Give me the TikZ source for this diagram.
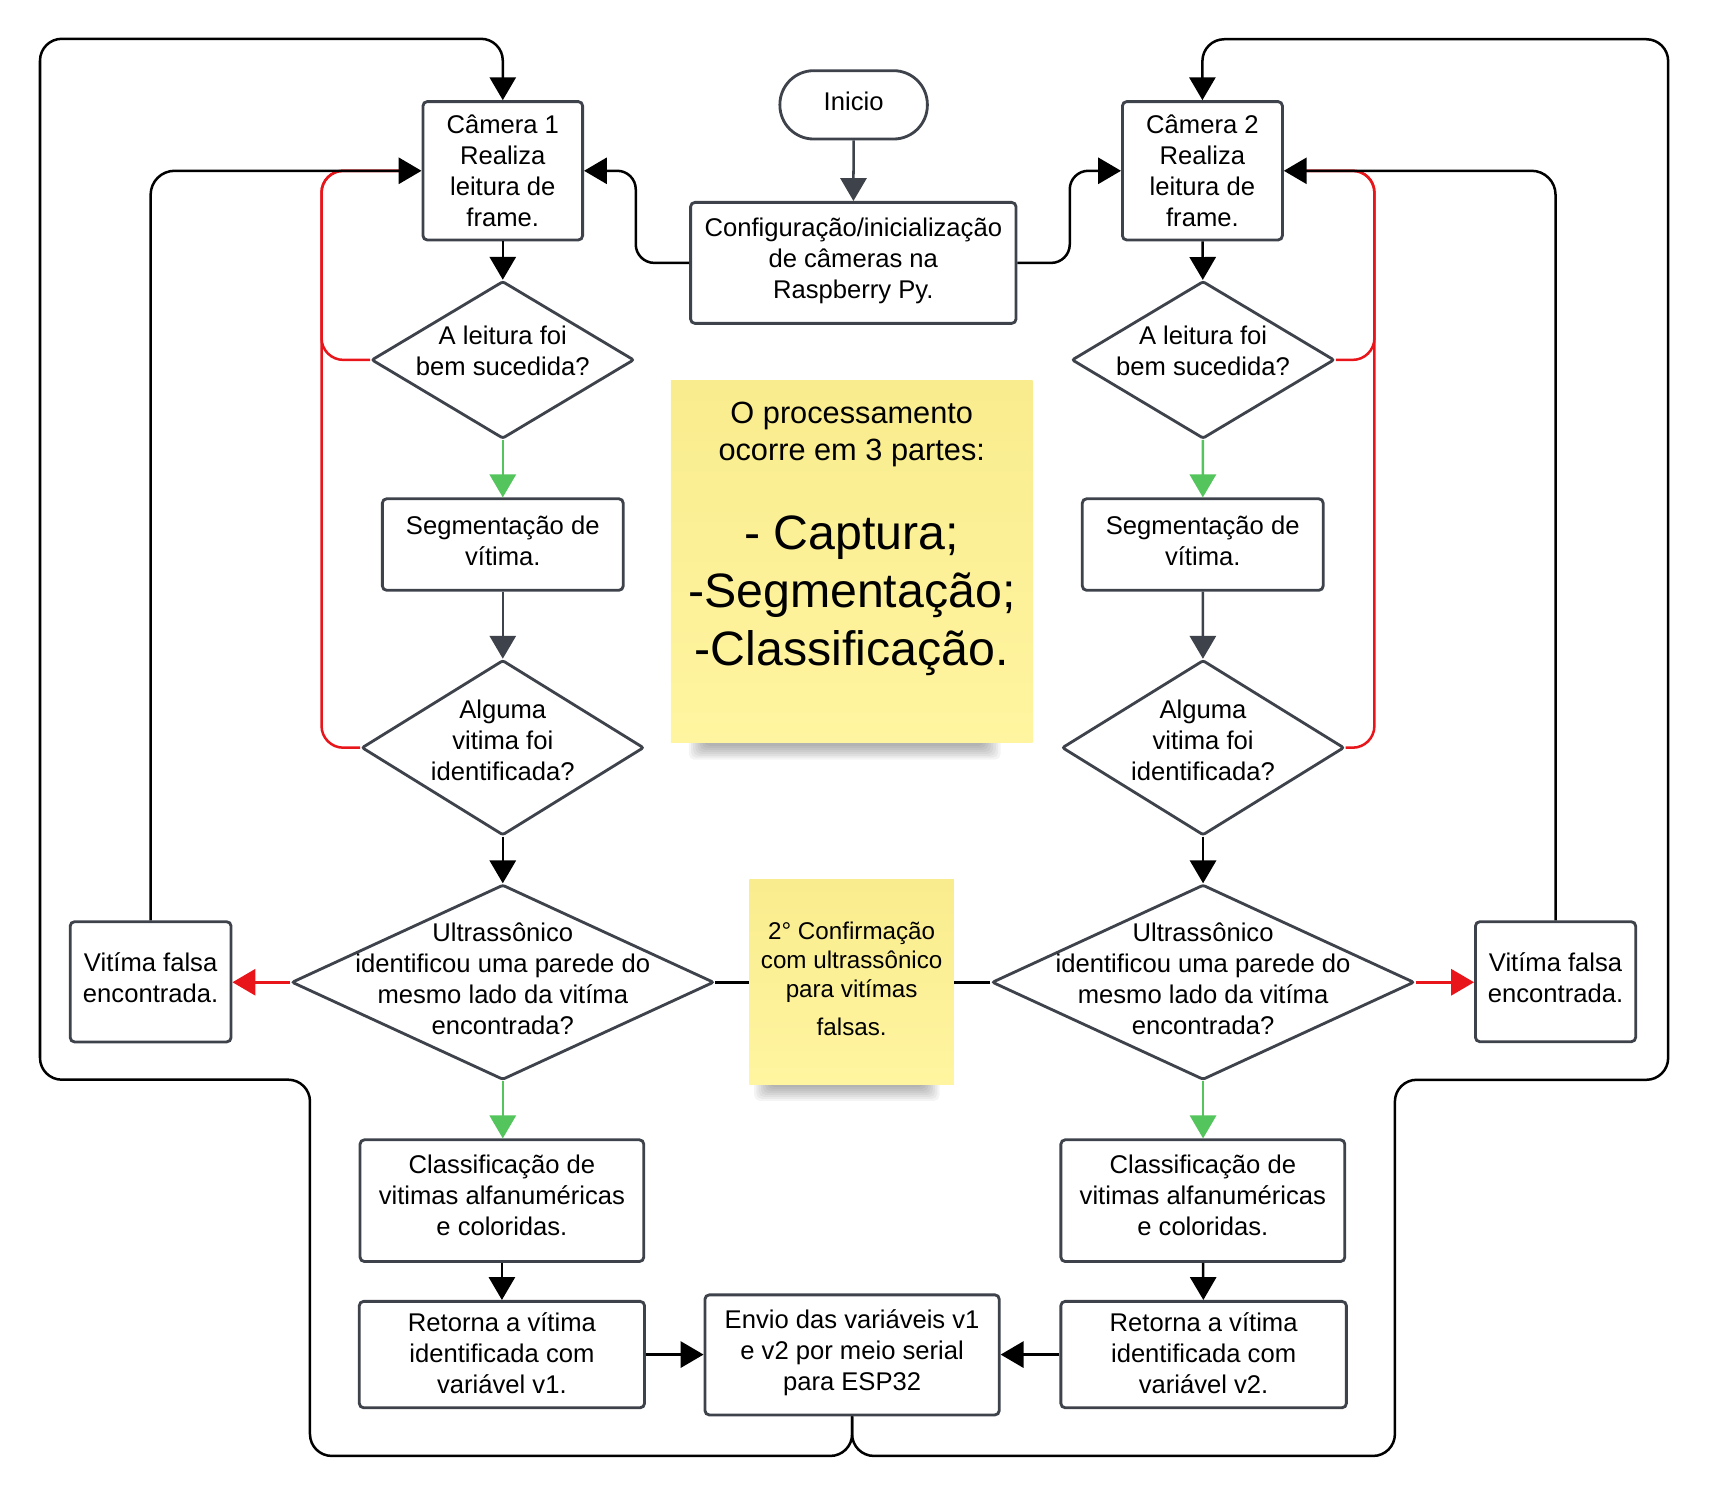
\documentclass[tikz,border=0pt]{standalone}
\usepackage{fontspec}
\setmainfont{Liberation Sans}
\usetikzlibrary{arrows.meta,shapes.geometric}
\definecolor{nodeline}{RGB}{62,66,75}
\definecolor{lgreen}{RGB}{84,196,92}
\definecolor{lred}{RGB}{232,22,27}
\definecolor{sticky}{RGB}{255,245,160}
\definecolor{stickytop}{RGB}{249,236,142}
\newcommand\fbody{\fontsize{23.5pt}{28.6pt}\selectfont}
\newcommand\fnoteA{\fontsize{28.2pt}{33.4pt}\selectfont}
\newcommand\fnoteB{\fontsize{44.3pt}{53.5pt}\selectfont}
\newcommand\fnoteC{\fontsize{22.2pt}{26.6pt}\selectfont}
\begin{document}
\begin{tikzpicture}[x=1pt,y=-1pt,
  box/.style={rectangle, draw=nodeline, line width=2.6pt, rounded corners=4pt, fill=white, inner sep=0pt},
  stadium/.style={rectangle, draw=nodeline, line width=2.6pt, rounded corners=31pt, fill=white, inner sep=0pt},
  dia/.style={diamond, draw=nodeline, line width=2.6pt, rounded corners=2pt, fill=white, inner sep=0pt},
  txt/.style={inner sep=0pt, align=center, font=\fbody},
  note/.style={rectangle, inner sep=0pt, top color=stickytop, middle color=sticky, bottom color=sticky},
  con/.style={line width=2.3pt, draw=black},
  arr/.style={con, -{Triangle[length=21pt,width=24pt]}},
  garr/.style={arr, draw=lgreen},
  rarr/.style={arr, draw=lred},
  darr/.style={arr, draw=nodeline},
  redline/.style={line width=2.3pt, draw=lred, rounded corners=20pt, shorten >=15pt},
]
\useasboundingbox (0,0) rectangle (1568,1373.5);

% ---------- shadows of the sticky notes ----------
\foreach \k in {0,...,7}{
  \fill[black, opacity=0.045, rounded corners=5pt] ({632+\k*2}, 668) rectangle ({918-\k*2.2}, {697-\k*1.8});
  \fill[black, opacity=0.045, rounded corners=5pt] ({692+\k*2}, 982) rectangle ({862-\k*2}, {1010-\k*1.8});
}

% ---------- sticky notes ----------
\node[note, minimum width=331.8pt, minimum height=332.7pt] (st1) at (781.5,515) {};
\node[inner sep=0pt, align=center, font=\fnoteA] (st1a) at (781.5,398.6) {O processamento\\ocorre em 3 partes:};
\node[inner sep=0pt, align=center, font=\fnoteB] (st1b) at (781.5,546.5) {- Captura;\\-Segmentação;\\-Classificação.};

\node[note, minimum width=187.7pt, minimum height=187.5pt] (st2) at (781.4,901) {};
\node[inner sep=0pt, align=center, font=\fnoteC] (st2t) at (781.4,898.1) {2° Confirmação\\com ultrassônico\\para vitímas\\[7.8pt]falsas.};

% ---------- centre column ----------
\node[stadium, minimum width=135.3pt, minimum height=62.7pt] (ini) at (783.2,96.2) {};
\node[txt] (init) at (783.2,93) {Inicio};
\node[box, minimum width=298.6pt, minimum height=111pt] (cfg) at (782.9,241.2) {};
\node[txt] (cfgt) at (782.9,239.4) {Configuração/inicialização\\de câmeras na\\Raspberry Py.};
\node[box, minimum width=270pt, minimum height=110.2pt] (env) at (781.8,1243.1) {};
\node[txt] (envt) at (781.8,1241) {Envio das variáveis v1\\e v2 por meio serial\\para ESP32};

% ---------- left column ----------
\node[box, minimum width=146.5pt, minimum height=127pt] (cam1) at (461.3,156.7) {};
\node[txt] (cam1t) at (461.3,156.5) {Câmera 1\\Realiza\\leitura de\\frame.};
\node[dia, minimum width=241pt, minimum height=144.5pt] (d1) at (461.3,330.2) {};
\node[txt] (d1t) at (461.3,322.1) {A leitura foi\\bem sucedida?};
\node[box, minimum width=221pt, minimum height=84pt] (seg1) at (461.3,499.6) {};
\node[txt] (seg1t) at (461.3,496.2) {Segmentação de\\vítima.};
\node[dia, minimum width=259pt, minimum height=160.7pt] (d2) at (461.3,686) {};
\node[txt] (d2t) at (461.3,679) {Alguma\\vitima foi\\identificada?};
\node[dia, minimum width=387.5pt, minimum height=179pt] (d3) at (461.3,901.2) {};
\node[txt] (d3t) at (461.3,897.9) {Ultrassônico\\identificou uma parede do\\mesmo lado da vitíma\\encontrada?};
\node[box, minimum width=147.6pt, minimum height=110.3pt] (vf1) at (138.2,900.8) {};
\node[txt] (vf1t) at (138.2,897.3) {Vitíma falsa\\encontrada.};
\node[box, minimum width=260.3pt, minimum height=111.7pt] (cls1) at (460.5,1101.6) {};
\node[txt] (cls1t) at (460.5,1096.9) {Classificação de\\vitimas alfanuméricas\\e coloridas.};
\node[box, minimum width=261.7pt, minimum height=97.6pt] (ret1) at (460.5,1242.8) {};
\node[txt] (ret1t) at (460.5,1241.3) {Retorna a vítima\\identificada com\\variável v1.};

% ---------- right column ----------
\node[box, minimum width=146.8pt, minimum height=127pt] (cam2) at (1103.2,156.7) {};
\node[txt] (cam2t) at (1103.2,156.5) {Câmera 2\\Realiza\\leitura de\\frame.};
\node[dia, minimum width=241pt, minimum height=144.5pt] (d1r) at (1103.8,330.2) {};
\node[txt] (d1rt) at (1103.8,322.1) {A leitura foi\\bem sucedida?};
\node[box, minimum width=221pt, minimum height=84pt] (seg2) at (1103.5,499.6) {};
\node[txt] (seg2t) at (1103.5,496.2) {Segmentação de\\vítima.};
\node[dia, minimum width=259pt, minimum height=160.7pt] (d2r) at (1103.8,686) {};
\node[txt] (d2rt) at (1103.8,679) {Alguma\\vitima foi\\identificada?};
\node[dia, minimum width=387.5pt, minimum height=179pt] (d3r) at (1103.8,901.2) {};
\node[txt] (d3rt) at (1103.8,897.9) {Ultrassônico\\identificou uma parede do\\mesmo lado da vitíma\\encontrada?};
\node[box, minimum width=147pt, minimum height=110.1pt] (vf2) at (1427.2,900.7) {};
\node[txt] (vf2t) at (1427.2,897.3) {Vitíma falsa\\encontrada.};
\node[box, minimum width=260.5pt, minimum height=111.7pt] (cls2) at (1103.6,1101.6) {};
\node[txt] (cls2t) at (1103.6,1096.9) {Classificação de\\vitimas alfanuméricas\\e coloridas.};
\node[box, minimum width=262pt, minimum height=97.6pt] (ret2) at (1104.3,1242.8) {};
\node[txt] (ret2t) at (1104.3,1241.3) {Retorna a vítima\\identificada com\\variável v2.};

% ---------- helper coordinates ----------
\coordinate (redL) at (295,0);
\coordinate (redR) at (1261,0);

% ---------- red loops (under the black ones) ----------
\draw[redline] (d1.west) -- (d1.west -| redL) |- (cam1.west);
\draw[redline] (d2.west) -- (d2.west -| redL) |- (cam1.west);
\draw[redline] (d1r.east) -- (d1r.east -| redR) |- (cam2.east);
\draw[redline] (d2r.east) -- (d2r.east -| redR) |- (cam2.east);

% ---------- connectors ----------
\draw[darr] (ini) -- (cfg);
\draw[arr, rounded corners=17pt] (cfg.west) -- ++(-49,0) |- (cam1.east);
\draw[arr, rounded corners=17pt] (cfg.east) -- ++(48,0) |- (cam2.west);

\draw[arr] (cam1) -- (d1);
\draw[garr] (d1) -- (seg1);
\draw[darr] (seg1) -- (d2);
\draw[arr] (d2) -- (d3);
\draw[garr] (d3.south) -- (d3.south |- cls1.north);
\draw[arr] (cls1) -- (ret1);
\draw[arr] (ret1.east) -- (ret1.east -| env.west);
\draw[rarr] (d3.west) -- (d3.west -| vf1.east);
\draw[con] (d3.east) -- (d3.east -| st2.west);
\draw[arr, rounded corners=22pt] (vf1.north) |- (cam1.west);

\draw[arr] (cam2) -- (d1r);
\draw[garr] (d1r) -- (seg2);
\draw[darr] (seg2) -- (d2r);
\draw[arr] (d2r) -- (d3r);
\draw[garr] (d3r.south) -- (d3r.south |- cls2.north);
\draw[arr] (cls2) -- (ret2);
\draw[arr] (ret2.west) -- (ret2.west -| env.east);
\draw[rarr] (d3r.east) -- (d3r.east -| vf2.west);
\draw[con] (d3r.west) -- (d3r.west -| st2.east);
\draw[arr, rounded corners=22pt] (vf2.north) |- (cam2.east);

% ---------- outer return loops ----------
\draw[arr, rounded corners=20pt] (env.south) |- (284.4,1335.8) |- (36.7,990.6) |- (461.3,35.6) -- (cam1.north);
\draw[arr, rounded corners=20pt] (env.south) |- (1279.8,1335.8) |- (1530.5,990.7) |- (1103.2,36) -- (cam2.north);
\end{tikzpicture}
\end{document}
